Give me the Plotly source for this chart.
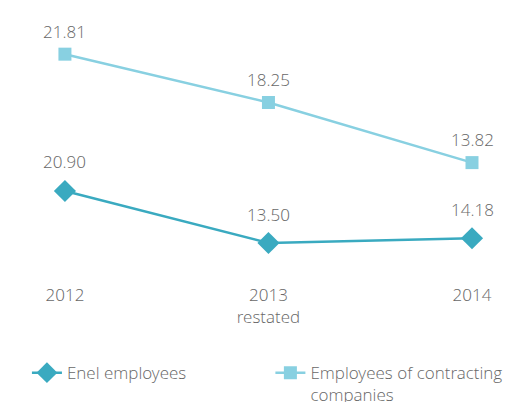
import plotly.graph_objects as go

years = ["2012", "2013<br>restated", "2014"]
enel_employees = [20.90, 13.50, 14.18]
contractor_employees = [21.81, 18.25, 13.82]

enel_color = "#3aaac0"
contractor_color = "#88d0e1"
text_color = "#686868"
font_family = "Open Sans Light, Open Sans"
light = dict(size=17, color=text_color, family=font_family, weight=300)

fig = go.Figure()

fig.add_trace(go.Scatter(
    x=years, y=enel_employees, name="Enel employees",
    mode="lines+markers",
    line=dict(color=enel_color, width=2.5),
    marker=dict(symbol="diamond", size=17, color=enel_color),
    yaxis="y2", legend="legend",
))

fig.add_trace(go.Scatter(
    x=years, y=contractor_employees,
    name="Employees of contracting<br>companies",
    mode="lines+markers",
    line=dict(color=contractor_color, width=2.5),
    marker=dict(symbol="square", size=13, color=contractor_color),
    yaxis="y", legend="legend2",
))

# value labels above each marker (x given as category index)
annotations = []
for i, v in enumerate(enel_employees):
    annotations.append(dict(x=i, y=v, xref="x", yref="y2", text=f"{v:.2f}",
                            showarrow=False, yshift=29, font=light))
for i, v in enumerate(contractor_employees):
    annotations.append(dict(x=i, y=v, xref="x", yref="y", text=f"{v:.2f}",
                            showarrow=False, yshift=23, font=light))

legend_common = dict(
    orientation="h", xanchor="left", y=-0.255, yanchor="top",
    font=light, itemclick=False, valign="top", bgcolor="rgba(0,0,0,0)",
)

fig.update_layout(
    width=518, height=402,
    margin=dict(l=0, r=0, t=0, b=119, autoexpand=False),
    paper_bgcolor="white", plot_bgcolor="white",
    font=light,
    annotations=annotations,
    showlegend=True,
    legend=dict(x=0.052, **legend_common),
    legend2=dict(x=0.522, **legend_common),
    xaxis=dict(
        type="category", range=[-0.319, 2.226],
        showgrid=False, zeroline=False, showline=False, ticks="",
        tickfont=light,
    ),
    yaxis=dict(range=[4.95, 25.80], visible=False, showgrid=False),
    yaxis2=dict(range=[7.81, 48.07], visible=False, showgrid=False,
                overlaying="y", side="right"),
)

fig.write_html("out.html")
